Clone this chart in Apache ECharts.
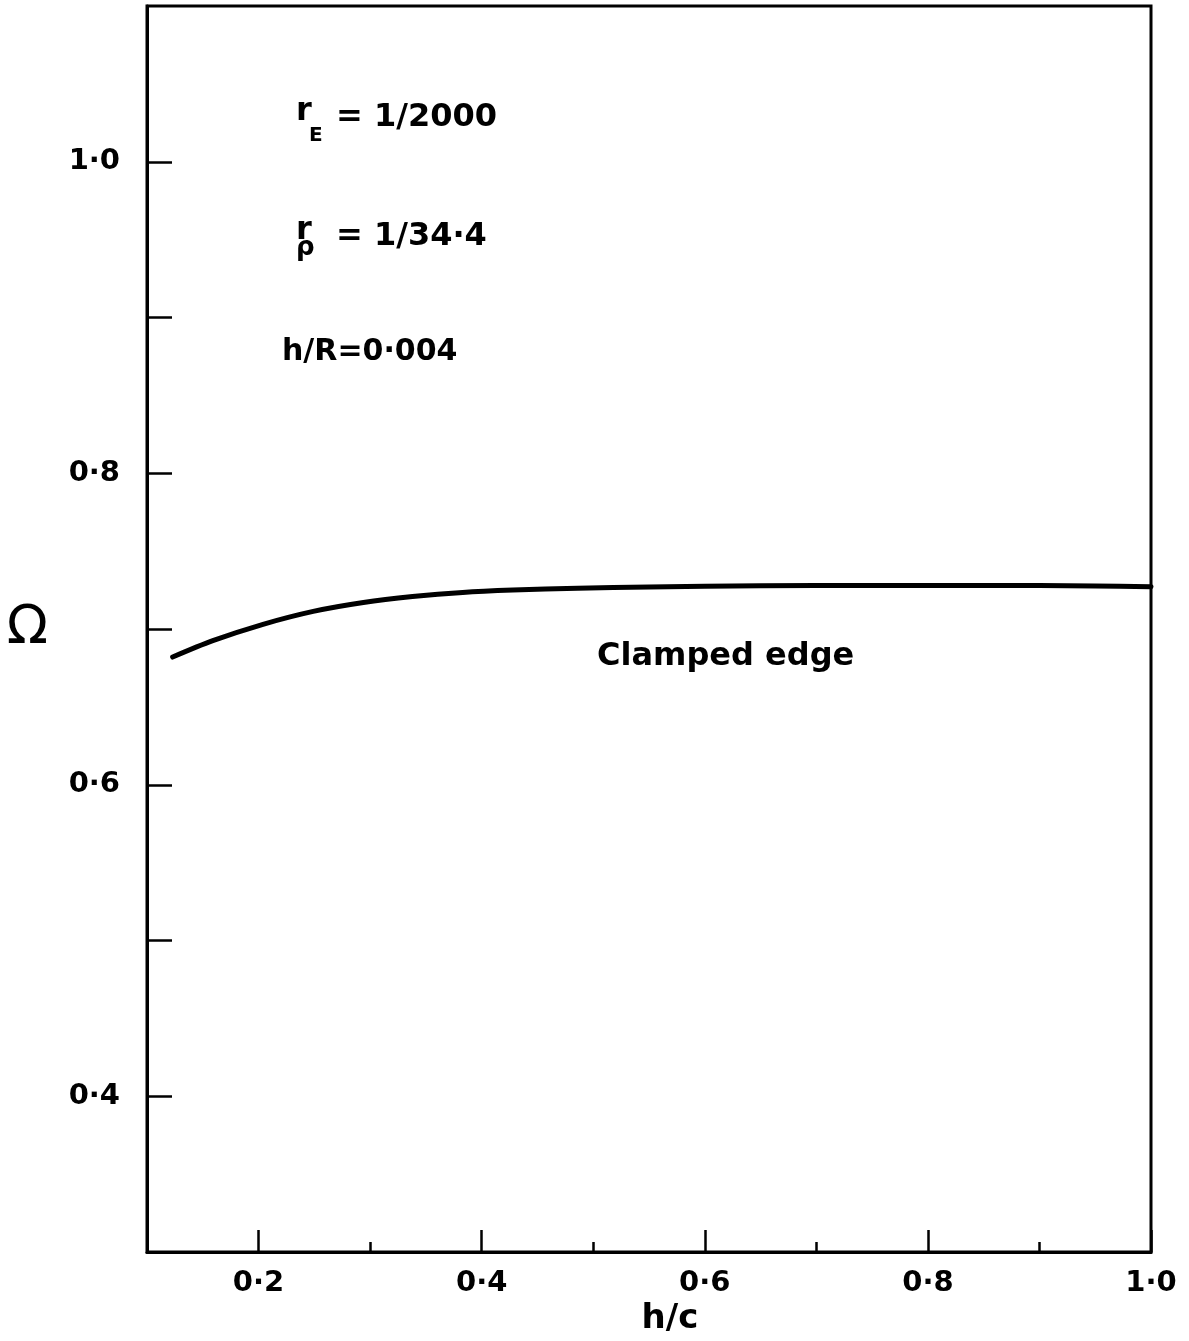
<!DOCTYPE html>
<html>
<head>
<meta charset="utf-8">
<script src="https://cdn.jsdelivr.net/npm/echarts@6/dist/echarts.min.js"></script>
<style>
  html, body { margin: 0; padding: 0; background: #fff; }
  #chart { width: 1189px; height: 1341px; }
</style>
</head>
<body>
<div id="chart"></div>
<script>
// clamped edge curve
const hcValues = [0.123, 0.159, 0.204, 0.249, 0.294, 0.338, 0.383, 0.428, 0.486, 0.55, 0.65, 0.75, 0.85, 0.95, 1.0]
const omegaValues = [0.682, 0.6925, 0.703, 0.7113, 0.717, 0.7208, 0.7235, 0.725, 0.7262, 0.727, 0.7277, 0.728, 0.728, 0.7276, 0.7272]

const xMajorTicks = [0.2, 0.4, 0.6, 0.8, 1.0]
const xMinorTicks = [0.3, 0.5, 0.7, 0.9]
const yTicks = [0.4, 0.5, 0.6, 0.7, 0.8, 0.9, 1.0]
const yLabels = [0.4, 0.6, 0.8, 1.0]

const FONT = 'DejaVu Sans'
const fmt = v => v.toFixed(1).replace('.', '·')

const chart = echarts.init(document.getElementById('chart'))

function txt(x, y, text, size, align) {
  return {
    type: 'text', x: x, y: y,
    style: {
      text: text, fontFamily: FONT, fontWeight: 'bold', fontSize: size, fill: '#000',
      align: align || 'left', verticalAlign: 'middle'
    }
  }
}

const labelStyle = { color: '#000', fontFamily: FONT, fontWeight: 'bold', fontSize: 29 }

chart.setOption({
  backgroundColor: '#fff',
  animation: false,
  grid: { left: 147, right: 38, top: 6, bottom: 89, show: true, borderColor: '#000', borderWidth: 3 },
  xAxis: [
    {
      type: 'value', min: 0.1, max: 1.0, interval: 0.1,
      axisLine: { lineStyle: { color: '#000', width: 3 } },
      axisTick: { inside: true, length: 22, customValues: xMajorTicks, lineStyle: { color: '#000', width: 2.5 } },
      axisLabel: Object.assign({ customValues: xMajorTicks, formatter: fmt, margin: 17, showMaxLabel: true }, labelStyle),
      splitLine: { show: false }
    },
    {
      type: 'value', min: 0.1, max: 1.0, interval: 0.1, position: 'bottom',
      axisLine: { show: false },
      axisTick: { inside: true, length: 10, customValues: xMinorTicks, lineStyle: { color: '#000', width: 2.5 } },
      axisLabel: { show: false },
      splitLine: { show: false }
    }
  ],
  yAxis: {
    type: 'value', min: 0.3, max: 1.1, interval: 0.1,
    name: 'Ω', nameLocation: 'middle', nameRotate: 0, nameGap: 99,
    nameTextStyle: { color: '#000', fontFamily: FONT, fontSize: 54 },
    axisLine: { lineStyle: { color: '#000', width: 3 } },
    axisTick: { inside: true, length: 25, customValues: yTicks, lineStyle: { color: '#000', width: 2.5 } },
    axisLabel: Object.assign({ customValues: yLabels, formatter: fmt, margin: 27 }, labelStyle),
    splitLine: { show: false }
  },
  series: [{
    type: 'line',
    data: hcValues.map((x, i) => [x, omegaValues[i]]),
    smooth: 0.3,
    showSymbol: false,
    lineStyle: { color: '#000', width: 5, cap: 'round' }
  }],
  graphic: [
    txt(296, 112, 'r', 32),
    txt(309, 136, 'E', 20),
    txt(336, 118, '= 1/2000', 32),
    txt(296, 231, 'r', 32),
    txt(296, 248, 'ρ', 26),
    txt(336, 237, '= 1/34·4', 32),
    txt(282, 352, 'h/R=0·004', 30),
    txt(597, 657, 'Clamped edge', 32),
    txt(670, 1319, 'h/c', 34, 'center')
  ]
})
</script>
</body>
</html>
